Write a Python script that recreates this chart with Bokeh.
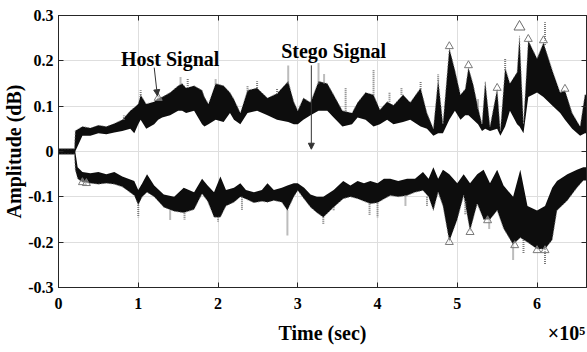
from bokeh.plotting import figure
from bokeh.models import Range1d, LinearAxis, FixedTicker, Label, Arrow, NormalHead
from bokeh.embed import file_html
from bokeh.resources import INLINE

# ---------------- data (x in units of 1e5 samples) ----------------
x_up = [0.0, 0.1, 0.2, 0.21, 0.3, 0.4, 0.5, 0.6, 0.7, 0.8, 0.9, 0.95, 1.0, 1.03, 1.1, 1.2, 1.25, 1.3,
        1.4, 1.5, 1.55, 1.6, 1.7, 1.8, 1.83, 1.88, 1.97, 2.07, 2.15, 2.2, 2.28, 2.37, 2.49, 2.62, 2.74,
        2.88, 2.95, 3.0, 3.07, 3.16, 3.26, 3.37, 3.45, 3.56, 3.68, 3.75, 3.85, 3.95, 4.03, 4.12, 4.2,
        4.32, 4.41, 4.54, 4.62, 4.7, 4.76, 4.82, 4.9, 4.97, 5.04, 5.1, 5.14, 5.2, 5.26, 5.31, 5.35,
        5.41, 5.5, 5.54, 5.6, 5.66, 5.75, 5.78, 5.83, 5.89, 6.0, 6.08, 6.2, 6.29, 6.35, 6.44, 6.54,
        6.6, 6.62]
up_outer = [0.006, 0.006, 0.006, 0.046, 0.055, 0.052, 0.058, 0.055, 0.062, 0.07, 0.09, 0.097, 0.105,
            0.125, 0.105, 0.11, 0.118, 0.12, 0.13, 0.145, 0.15, 0.14, 0.145, 0.135, 0.12, 0.105, 0.15,
            0.145, 0.13, 0.115, 0.085, 0.135, 0.14, 0.118, 0.128, 0.155, 0.11, 0.09, 0.118, 0.108,
            0.155, 0.15, 0.125, 0.09, 0.085, 0.108, 0.13, 0.125, 0.092, 0.11, 0.102, 0.125, 0.108,
            0.14, 0.085, 0.05, 0.16, 0.06, 0.228, 0.18, 0.125, 0.138, 0.185, 0.148, 0.097, 0.06,
            0.155, 0.055, 0.138, 0.045, 0.185, 0.15, 0.175, 0.255, 0.06, 0.245, 0.205, 0.24, 0.175,
            0.13, 0.135, 0.085, 0.055, 0.125, 0.125]
up_inner = [-0.006, -0.006, -0.006, 0.0, 0.035, 0.035, 0.04, 0.038, 0.042, 0.045, 0.05, 0.04, 0.06,
            0.07, 0.05, 0.06, 0.07, 0.075, 0.08, 0.09, 0.09, 0.085, 0.09, 0.06, 0.055, 0.06, 0.07,
            0.065, 0.085, 0.07, 0.06, 0.085, 0.09, 0.08, 0.07, 0.065, 0.06, 0.06, 0.07, 0.08, 0.09,
            0.09, 0.075, 0.055, 0.06, 0.075, 0.07, 0.055, 0.06, 0.07, 0.06, 0.065, 0.07, 0.055,
            0.05, 0.035, 0.04, 0.04, 0.07, 0.09, 0.07, 0.08, 0.08, 0.07, 0.06, 0.045, 0.05, 0.045,
            0.05, 0.035, 0.055, 0.09, 0.06, 0.055, 0.04, 0.12, 0.13, 0.12, 0.1, 0.085, 0.07, 0.05,
            0.035, 0.04, 0.04]

x_low = [0.0, 0.2, 0.21, 0.24, 0.3, 0.4, 0.5, 0.6, 0.7, 0.8, 0.95, 1.0, 1.05, 1.11, 1.2, 1.32, 1.45,
         1.57, 1.7, 1.8, 1.87, 1.95, 2.03, 2.1, 2.2, 2.28, 2.35, 2.45, 2.55, 2.62, 2.7, 2.8, 2.87,
         2.95, 3.0, 3.08, 3.16, 3.24, 3.32, 3.45, 3.57, 3.66, 3.75, 3.83, 3.91, 4.0, 4.08, 4.16, 4.26,
         4.37, 4.47, 4.57, 4.64, 4.7, 4.76, 4.82, 4.9, 5.0, 5.08, 5.16, 5.25, 5.33, 5.41, 5.5, 5.58,
         5.7, 5.79, 5.88, 6.0, 6.1, 6.19, 6.25, 6.38, 6.5, 6.58, 6.62]
low_outer = [-0.006, -0.006, -0.04, -0.06, -0.068, -0.07, -0.072, -0.07, -0.072, -0.078, -0.097,
             -0.118, -0.1, -0.09, -0.1, -0.123, -0.132, -0.135, -0.128, -0.093, -0.11, -0.145,
             -0.145, -0.12, -0.112, -0.1, -0.105, -0.113, -0.11, -0.112, -0.108, -0.112, -0.13,
             -0.1, -0.086, -0.105, -0.123, -0.135, -0.145, -0.123, -0.104, -0.1, -0.104, -0.11,
             -0.115, -0.113, -0.105, -0.097, -0.1, -0.097, -0.09, -0.086, -0.1, -0.13, -0.09, -0.12,
             -0.198, -0.15, -0.097, -0.175, -0.115, -0.15, -0.15, -0.13, -0.17, -0.205, -0.19,
             -0.2, -0.215, -0.215, -0.195, -0.13, -0.108, -0.08, -0.064, -0.064]
low_inner = [0.006, 0.006, 0.0, -0.035, -0.045, -0.048, -0.045, -0.05, -0.045, -0.055, -0.065,
             -0.085, -0.07, -0.05, -0.075, -0.095, -0.1, -0.08, -0.09, -0.06, -0.075, -0.09, -0.055,
             -0.085, -0.08, -0.07, -0.085, -0.09, -0.085, -0.07, -0.085, -0.08, -0.075, -0.07, -0.07,
             -0.08, -0.095, -0.1, -0.1, -0.085, -0.065, -0.075, -0.065, -0.07, -0.065, -0.07, -0.06,
             -0.06, -0.065, -0.06, -0.06, -0.045, -0.06, -0.035, -0.06, -0.04, -0.05, -0.07, -0.05,
             -0.07, -0.05, -0.04, -0.07, -0.04, -0.075, -0.1, -0.04, -0.12, -0.13, -0.12, -0.08,
             -0.065, -0.05, -0.04, -0.035, -0.035]

# stego signal excursions (grey dotted spikes)
stego_up_x = [0.82, 1.03, 1.25, 1.53, 1.62, 1.97, 2.37, 2.49, 2.74, 2.88, 3.26, 3.33, 3.6, 3.95,
              4.15, 4.3, 4.54, 4.76, 5.26, 5.6, 6.1]
stego_up_base = [0.07, 0.12, 0.115, 0.148, 0.14, 0.148, 0.133, 0.14, 0.127, 0.15, 0.15, 0.15, 0.09,
                 0.125, 0.11, 0.125, 0.138, 0.155, 0.095, 0.18, 0.235]
stego_up_top = [0.08, 0.135, 0.125, 0.165, 0.16, 0.16, 0.145, 0.155, 0.14, 0.19, 0.195, 0.17, 0.14,
                0.18, 0.13, 0.14, 0.155, 0.17, 0.115, 0.205, 0.285]
stego_low_x = [1.0, 1.4, 1.58, 2.0, 2.3, 2.87, 3.32, 3.45, 3.9, 4.0, 4.35, 4.62, 5.1, 5.4, 5.7,
               5.83, 6.1]
stego_low_base = [-0.118, -0.13, -0.135, -0.145, -0.1, -0.13, -0.145, -0.123, -0.115, -0.113,
                  -0.097, -0.1, -0.11, -0.15, -0.205, -0.195, -0.215]
stego_low_bottom = [-0.145, -0.15, -0.15, -0.155, -0.13, -0.185, -0.16, -0.13, -0.14, -0.145, -0.12,
                    -0.12, -0.14, -0.17, -0.24, -0.225, -0.25]

tri_x = [0.3, 0.35, 1.25, 4.9, 5.14, 5.5, 5.89, 6.08, 6.35, 4.9, 5.16, 5.38, 5.72, 6.0, 6.1]
tri_y = [-0.068, -0.07, 0.118, 0.232, 0.19, 0.14, 0.248, 0.245, 0.138, -0.2, -0.178, -0.152,
         -0.207, -0.218, -0.218]
big_tri_x = [5.78]
big_tri_y = [0.275]

x_ticks = [0, 1, 2, 3, 4, 5, 6]
y_ticks = [-0.3, -0.2, -0.1, 0, 0.1, 0.2, 0.3]
y_tick_labels = {-0.3: "-0.3", -0.2: "-0.2", -0.1: "-0.1", 0: "0", 0.1: "0.1", 0.2: "0.2", 0.3: "0.3"}
x_title = "Time (sec)"
x_scale_note = "\u00d710\u2075"
y_title = "Amplitude (dB)"

FONT = "Liberation Serif"

p = figure(width=587, height=352, output_backend="svg", toolbar_location=None,
           x_range=Range1d(0, 6.62), y_range=Range1d(-0.3, 0.3),
           min_border_left=58, min_border_right=1, min_border_top=15, min_border_bottom=65)
p.outline_line_color = "#262626"
p.background_fill_color = "white"

for ax in [p.xaxis[0], p.yaxis[0]]:
    ax.major_tick_in = 5
    ax.major_tick_out = 0
    ax.minor_tick_in = 0
    ax.minor_tick_out = 0
    ax.axis_line_color = "#262626"
    ax.major_tick_line_color = "#262626"
    ax.major_label_text_font = FONT
    ax.major_label_text_font_style = "bold"
    ax.major_label_text_font_size = "16px"
    ax.major_label_text_color = "black"

p.xaxis[0].ticker = FixedTicker(ticks=x_ticks)
p.yaxis[0].ticker = FixedTicker(ticks=y_ticks)
p.yaxis[0].major_label_overrides = y_tick_labels
p.xaxis[0].major_label_standoff = 10
p.yaxis[0].major_label_standoff = 5
p.yaxis[0].axis_label = y_title
p.yaxis[0].axis_label_text_font = FONT
p.yaxis[0].axis_label_text_font_style = "bold"
p.yaxis[0].axis_label_text_font_size = "20px"
p.yaxis[0].axis_label_text_color = "black"
p.yaxis[0].axis_label_standoff = 0

for loc, tk in [("right", y_ticks), ("above", x_ticks)]:
    a = LinearAxis(ticker=FixedTicker(ticks=tk), major_tick_in=5, major_tick_out=0,
                   minor_tick_in=0, minor_tick_out=0, major_label_text_font_size="0px",
                   major_label_text_color=None,
                   major_label_standoff=0, axis_line_color="#262626",
                   major_tick_line_color="#262626")
    p.add_layout(a, loc)

# second bottom axis carrying the x title and the x10^5 multiplier on one line
title_axis = LinearAxis(ticker=FixedTicker(ticks=[3.31, 6.37]),
                        major_label_overrides={3.31: x_title, 6.37: x_scale_note},
                        major_tick_in=0, major_tick_out=0, minor_tick_in=0, minor_tick_out=0,
                        axis_line_color=None, major_tick_line_color=None,
                        major_label_standoff=10, major_label_text_font=FONT,
                        major_label_text_font_style="bold", major_label_text_font_size="20px",
                        major_label_text_color="black")
p.add_layout(title_axis, "below")

p.xgrid.ticker = FixedTicker(ticks=x_ticks)
p.ygrid.ticker = FixedTicker(ticks=y_ticks)
p.grid.grid_line_color = "#dedede"
p.grid.grid_line_width = 1

# host waveform bands
p.varea(x=x_up, y1=up_inner, y2=up_outer, fill_color="#0d0d0d")
p.varea(x=x_low, y1=low_inner, y2=low_outer, fill_color="#0d0d0d")
p.line(x_up, up_outer, line_color="#8a8a8a", line_width=1, line_dash="1 2")
p.line(x_low, low_outer, line_color="#8a8a8a", line_width=1, line_dash="1 2")

# stego spikes
p.segment(x0=stego_up_x, y0=stego_up_base, x1=stego_up_x, y1=stego_up_top,
          line_color="#7a7a7a", line_width=2, line_dash="1 1")
p.segment(x0=stego_low_x, y0=stego_low_base, x1=stego_low_x, y1=stego_low_bottom,
          line_color="#7a7a7a", line_width=2, line_dash="1 1")
p.scatter(tri_x, tri_y, marker="triangle", size=8, line_color="#7a7a7a",
          fill_color="white", fill_alpha=0.4, line_width=1)
p.scatter(big_tri_x, big_tri_y, marker="triangle", size=11, line_color="#6a6a6a",
          fill_color="white", line_width=1)

# annotations
p.add_layout(Label(x=1.40, y=0.205, text="Host Signal", text_font=FONT, text_font_style="bold",
                   text_font_size="20px", text_align="center", text_baseline="middle",
                   text_color="black"))
p.add_layout(Label(x=3.45, y=0.222, text="Stego Signal", text_font=FONT, text_font_style="bold",
                   text_font_size="20px", text_align="center", text_baseline="middle",
                   text_color="black"))
p.add_layout(Arrow(x_start=1.20, y_start=0.185, x_end=1.24, y_end=0.123, line_width=1,
                   line_color="#333333",
                   end=NormalHead(size=6, line_color="#333333", fill_color="#333333")))
p.add_layout(Arrow(x_start=3.17, y_start=0.19, x_end=3.17, y_end=0.005, line_width=1,
                   line_color="#333333",
                   end=NormalHead(size=6, line_color="#333333", fill_color="#333333")))

open("out.html", "w").write(file_html(p, INLINE))
